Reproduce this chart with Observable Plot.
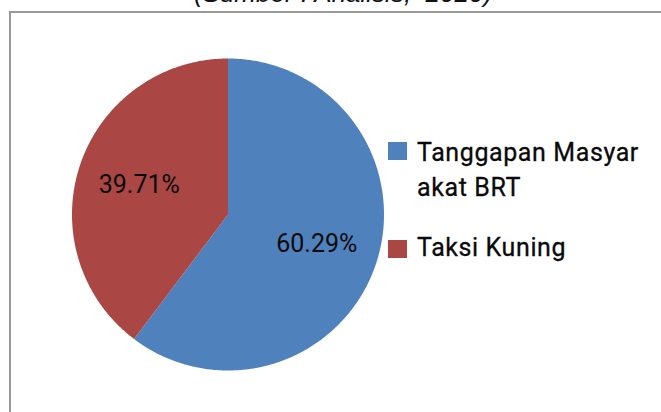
<!DOCTYPE html>
<html>
<head>
<meta charset="utf-8">
<script src="https://cdn.jsdelivr.net/npm/d3@7"></script>
<script src="https://cdn.jsdelivr.net/npm/@observablehq/plot@0.6"></script>
<style>
  html, body { margin: 0; padding: 0; background: #fff; }
  #wrap { position: relative; width: 661px; height: 412px; overflow: hidden; background: #fff; }
  #title { position: absolute; left: 0; width: 686px; text-align: center; top: -22px;
    font-family: "Liberation Sans", Arial, sans-serif; font-style: italic; font-size: 26px; color: #111; white-space: pre; line-height: 30px; }
  #box { position: absolute; left: 9px; top: 11px; width: 800px; height: 600px; border: 2px solid #9a9a9a; box-sizing: border-box; }
  #chart { position: absolute; left: 0; top: 0; }
  .lg { position: absolute; font-family: Roboto, sans-serif; font-size: 25px; line-height: 35px; color: #0a0a0a; white-space: nowrap; letter-spacing: 0.6px; -webkit-text-stroke: 0.3px #0a0a0a; }
  .sw { position: absolute; width: 19px; height: 18px; }
</style>
</head>
<body>
<div id="wrap">
  <div id="title">(Sumber : Analisis,  2020)</div>
  <div id="box"></div>
  <div id="chart"></div>
  <div id="legend"></div>
</div>
<script>
const categories = ["Tanggapan Masyarakat BRT", "Taksi Kuning"];
const legendLines = [["Tanggapan Masyar", "akat BRT"], ["Taksi Kuning"]];
const values = [60.29, 39.71];
const colors = ["#4F81BD", "#AA4643"];
const labels = ["60.29%", "39.71%"];

const total = d3.sum(values);
let acc = 0;
const slices = values.map((v, i) => {
  const a0 = acc / total * 2 * Math.PI;
  acc += v;
  const a1 = acc / total * 2 * Math.PI;
  return {name: categories[i], a0, a1, label: labels[i]};
});

// slice outline points (geometry from data angles)
const pts = [];
for (const s of slices) {
  pts.push({name: s.name, x: 0, y: 0});
  const n = Math.max(2, Math.ceil((s.a1 - s.a0) / (Math.PI / 360)));
  for (let k = 0; k <= n; k++) {
    const a = s.a0 + (s.a1 - s.a0) * k / n;
    pts.push({name: s.name, x: Math.sin(a), y: Math.cos(a)});
  }
}
const labelPts = slices.map(s => {
  const m = (s.a0 + s.a1) / 2;
  return {name: s.name, label: s.label, x: 0.6 * Math.sin(m), y: 0.6 * Math.cos(m)};
});

const cx = 227.5, cy = 214, r = 156;
const chart = Plot.plot({
  width: 661,
  height: 412,
  margin: 0,
  style: {background: "transparent", overflow: "visible"},
  x: {domain: [-1, 1], range: [cx - r, cx + r], axis: null},
  y: {domain: [-1, 1], range: [cy + r, cy - r], axis: null},
  color: {domain: categories, range: colors},
  marks: [
    Plot.line(pts, {x: "x", y: "y", z: "name", fill: "name", stroke: "none", curve: "linear-closed"}),
    Plot.text(labelPts, {x: "x", y: "y", text: "label", fill: "#0a0a0a", fontSize: 25,
      fontFamily: "Roboto, sans-serif", textAnchor: "middle", dy: 0,
      style: "letter-spacing:1.2px; stroke:#0a0a0a; stroke-width:0.3px"})
  ]
});
document.getElementById("chart").appendChild(chart);

// legend
const lg = document.getElementById("legend");
const swTops = [142, 240];
const txtTops = [135, 230];
categories.forEach((c, i) => {
  const sw = document.createElement("div");
  sw.className = "sw";
  sw.style.left = "388px";
  sw.style.top = swTops[i] + "px";
  sw.style.background = colors[i];
  lg.appendChild(sw);
  const t = document.createElement("div");
  t.className = "lg";
  t.style.left = "417px";
  t.style.top = txtTops[i] + "px";
  t.innerHTML = legendLines[i].join("<br>");
  lg.appendChild(t);
});
</script>
</body>
</html>
